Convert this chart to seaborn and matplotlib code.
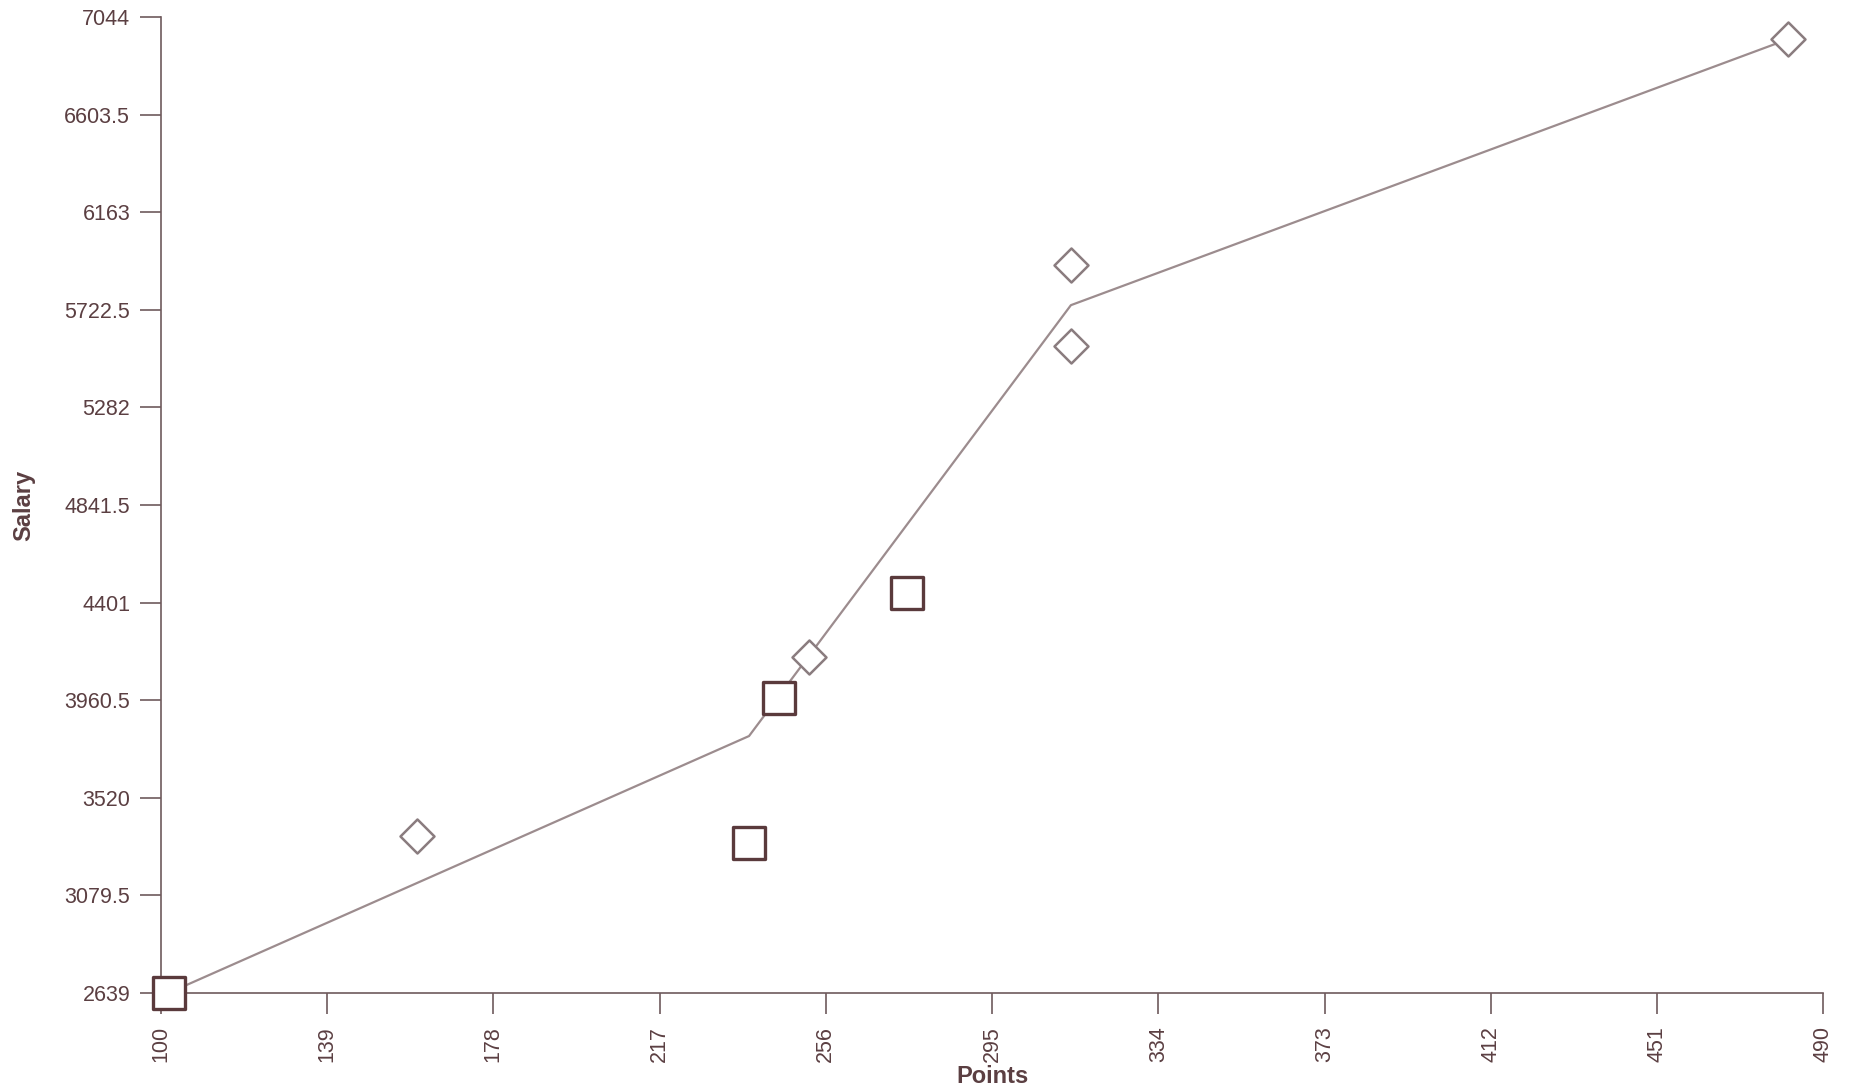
# Salary vs points scatter with trend line

import numpy as np
import pandas as pd
import matplotlib
matplotlib.use("Agg")
import matplotlib.pyplot as plt
import seaborn as sns

square_x = [102, 238, 245, 275]
square_y = [2639, 3314, 3971, 4446]

diamond_x = [160, 252, 313.5, 313.5, 481.7]
diamond_y = [3348, 4154, 5560, 5924, 6945]

line_x = [102, 238, 313.5, 481.7]
line_y = [2639, 3798, 5744, 6945]

x_ticks = [100, 139, 178, 217, 256, 295, 334, 373, 412, 451, 490]
y_ticks = [2639, 3079.5, 3520, 3960.5, 4401, 4841.5, 5282, 5722.5, 6163, 6603.5, 7044]
y_labels = ["2639", "3079.5", "3520", "3960.5", "4401", "4841.5", "5282", "5722.5", "6163", "6603.5", "7044"]

text_col = "#5b3f42"
axis_col = "#6e5a5c"

sns.set_theme(style="ticks")
plt.rcParams['font.family'] = ['Liberation Sans', 'DejaVu Sans']

fig = plt.figure(figsize=(18.56, 10.90), dpi=100)
ax = fig.add_axes([0.0866, 0.0893, 0.8958, 0.8948])

sns.lineplot(x=line_x, y=line_y, ax=ax, color="#9c8c8e", linewidth=1.6,
             sort=False, zorder=1)
sns.scatterplot(x=diamond_x, y=diamond_y, ax=ax, marker="D", s=300,
                facecolor="white", edgecolor="#8a7c7f", linewidth=1.8,
                zorder=3, clip_on=False)
sns.scatterplot(x=square_x, y=square_y, ax=ax, marker="s", s=560,
                facecolor="white", edgecolor="#5a3a3c", linewidth=2.4,
                zorder=4, clip_on=False)

ax.set_xlim(100, 490)
ax.set_ylim(2639, 7044)
ax.set_xticks(x_ticks)
ax.set_xticklabels([str(v) for v in x_ticks], rotation=90)
ax.set_yticks(y_ticks)
ax.set_yticklabels(y_labels)

sns.despine(ax=ax)
for side in ["left", "bottom"]:
    ax.spines[side].set_color(axis_col)
    ax.spines[side].set_linewidth(1.2)
ax.tick_params(axis="both", colors=axis_col, length=15, width=1.2,
               labelcolor=text_col, labelsize=15.5)
ax.tick_params(axis="y", pad=7)
ax.tick_params(axis="x", pad=9)

ax.set_xlabel("Points", fontsize=17, fontweight="bold", color=text_col, labelpad=2)
ax.set_ylabel("Salary", fontsize=17, fontweight="bold", color=text_col, labelpad=21)

plt.savefig("out.png", dpi=100)
